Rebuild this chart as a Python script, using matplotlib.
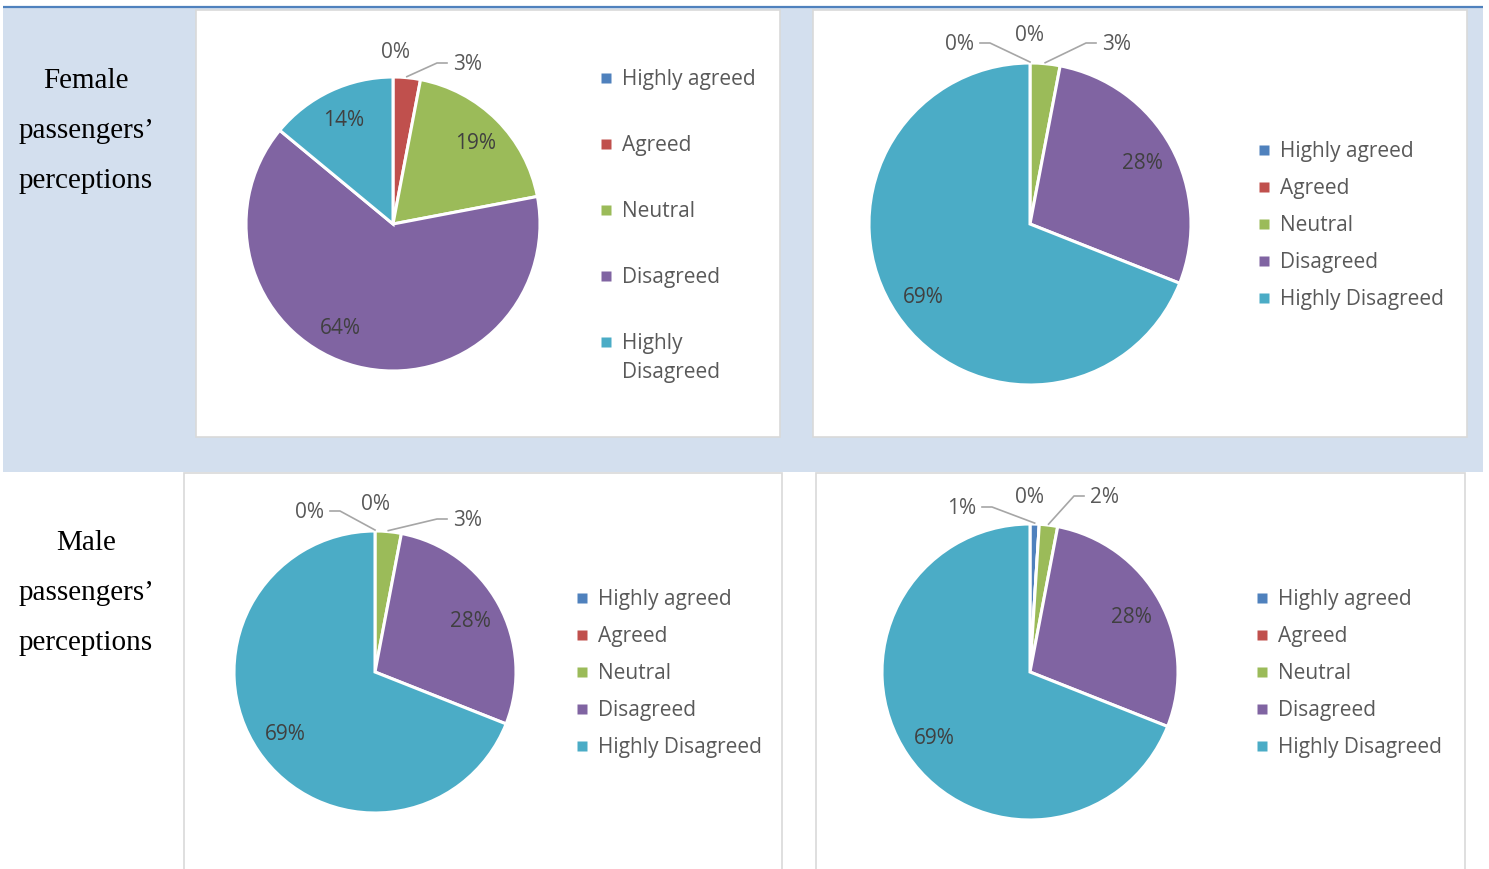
import numpy as np
import matplotlib.pyplot as plt
from matplotlib.patches import Rectangle

W, H = 1489, 869

categories = ['Highly agreed', 'Agreed', 'Neutral', 'Disagreed', 'Highly Disagreed']
female_share_a = [0, 3, 19, 64, 14]
female_share_b = [0, 0, 3, 28, 69]
male_share_a = [0, 0, 3, 28, 69]
male_share_b = [1, 0, 2, 28, 69]

colors = ['#4F81BD', '#C0504D', '#9BBB59', '#8064A2', '#4BACC6']
text_grey = '#595959'
label_grey = '#404040'
FONT = 'Open Sans'
FS = 15

# layout of each panel, in pixels (origin at the top left)
panels = [
    dict(values=female_share_a, center=(393, 224), radius=147, inner=0.79,
         angle_fix={3: -117},
         outside={0: ('top', 3, -173), 1: ('right', 44, -161)},
         legend=dict(x=606, ys=[78, 144, 210, 276, 342],
                     labels=['Highly agreed', 'Agreed', 'Neutral', 'Disagreed',
                             'Highly\nDisagreed'])),
    dict(values=female_share_b, center=(1030, 224), radius=161, inner=0.80,
         angle_fix={},
         outside={0: ('left', -40, -181), 1: ('top', 0, -190), 2: ('right', 56, -181)},
         legend=dict(x=1264, ys=[150, 187, 224, 261, 298], labels=categories)),
    dict(values=male_share_a, center=(375, 672), radius=141, inner=0.77,
         angle_fix={},
         outside={0: ('left', -35, -161), 1: ('top', 0, -169), 2: ('right', 62, -153)},
         legend=dict(x=582, ys=[598, 635, 672, 709, 746], labels=categories)),
    dict(values=male_share_b, center=(1030, 672), radius=148, inner=0.78,
         angle_fix={},
         outside={0: ('left', -38, -165), 1: ('top', 0, -176), 2: ('right', 44, -176)},
         legend=dict(x=1262, ys=[598, 635, 672, 709, 746], labels=categories)),
]


def fig_rect(x0, y0, w, h):
    return [x0 / W, 1 - (y0 + h) / H, w / W, h / H]


def pixel_axes(zorder):
    a = fig.add_axes([0, 0, 1, 1], zorder=zorder)
    a.set_xlim(0, W)
    a.set_ylim(H, 0)
    a.axis('off')
    a.patch.set_alpha(0)
    return a


fig = plt.figure(figsize=(W / 100, H / 100), dpi=100)
bg = pixel_axes(0)

# panel backgrounds
bg.add_patch(Rectangle((3, 8), 1480, 464, facecolor='#D3DFEE', edgecolor='none'))
bg.plot([3, 1483], [7, 7], color='#4F81BD', lw=1.6, solid_capstyle='butt')
for x0, y0, x1, y1 in [(196, 10, 780, 437), (813, 10, 1467, 437),
                       (184, 473, 782, 880), (816, 473, 1465, 880)]:
    bg.add_patch(Rectangle((x0, y0), x1 - x0, y1 - y0, facecolor='white',
                           edgecolor='#D9D9D9', lw=1.2))

for lines, base in [(['Female', 'passengers\u2019', 'perceptions'], 88),
                    (['Male', 'passengers\u2019', 'perceptions'], 550)]:
    for k, line in enumerate(lines):
        bg.text(86, base + 50 * k, line, family='Liberation Serif', fontsize=21,
                color='black', ha='center', va='baseline')

top = pixel_axes(10)

for p in panels:
    cx, cy = p['center']
    r = p['radius']
    ax = fig.add_axes(fig_rect(cx - r, cy - r, 2 * r, 2 * r), zorder=5)
    wedges, _ = ax.pie(p['values'], colors=colors, startangle=90, counterclock=False,
                       wedgeprops=dict(edgecolor='white', linewidth=2.2))
    ax.set_xlim(-1, 1)
    ax.set_ylim(-1, 1)
    ax.axis('off')

    for i, (w, v) in enumerate(zip(wedges, p['values'])):
        mid = np.deg2rad((w.theta1 + w.theta2) / 2)
        label = f'{v}%'
        if i in p['outside']:
            kind, dx, dy = p['outside'][i]
            if kind == 'top':
                top.text(cx + dx, cy + dy + 7, label, family=FONT, fontsize=FS,
                         color=text_grey, ha='center', va='baseline')
                continue
            ex, ey = cx + dx, cy + dy
            sx, sy = cx + r * np.cos(mid), cy - r * np.sin(mid) - 1
            step = -10 if kind == 'left' else 10
            top.plot([sx, ex, ex + step], [sy, ey, ey], color='#A6A6A6', lw=1.2)
            top.text(ex + step + (-6 if kind == 'left' else 6), ey + 7, label,
                     family=FONT, fontsize=FS, color=text_grey,
                     ha='right' if kind == 'left' else 'left', va='baseline')
        else:
            ang = np.deg2rad(p['angle_fix'].get(i, np.rad2deg(mid)))
            f = p['inner'] * r
            top.text(cx + f * np.cos(ang), cy - f * np.sin(ang) + 7, label,
                     family=FONT, fontsize=FS, color=label_grey,
                     ha='center', va='baseline')

    lg = p['legend']
    for c, y, name in zip(colors, lg['ys'], lg['labels']):
        top.plot(lg['x'], y, marker='s', ms=7, color=c, mec='none')
        for k, part in enumerate(name.split('\n')):
            top.text(lg['x'] + 16, y + 7 + 29 * k, part, family=FONT, fontsize=FS,
                     color=text_grey, ha='left', va='baseline')

fig.savefig('out.png', dpi=100)
